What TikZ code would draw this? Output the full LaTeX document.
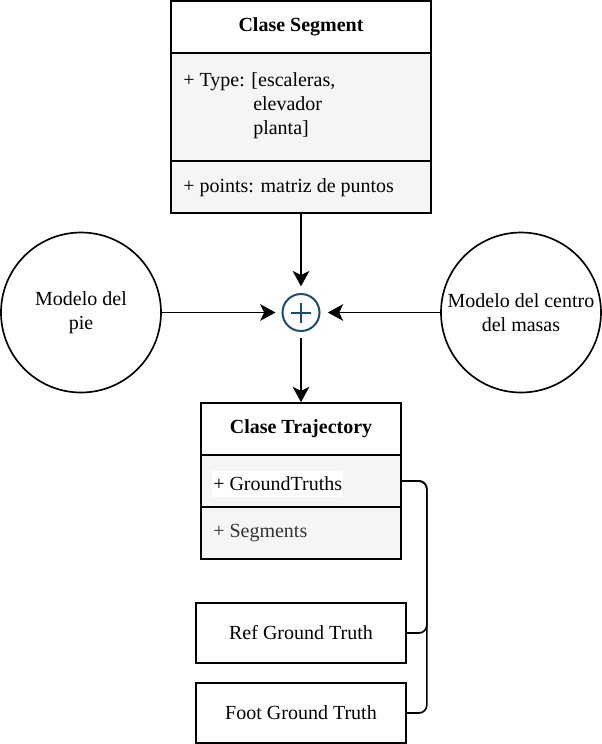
\documentclass[tikz,border=0pt]{standalone}
\usepackage{fontspec}
\setmainfont{Liberation Serif}
\usetikzlibrary{arrows.meta}
\definecolor{rowfill}{HTML}{F5F5F5}
\definecolor{graytext}{HTML}{333333}
\definecolor{plusblue}{HTML}{1E4D6B}
\tikzset{
  txt/.style={font=\fontsize{15}{18}\selectfont},
  box/.style={draw=black, line width=1.25pt, rectangle, inner sep=0pt, txt},
  row/.style={box, fill=rowfill},
  circ/.style={draw=black, line width=1.25pt, circle, inner sep=0pt, minimum size=120pt, align=center, txt},
  arr/.style={line width=1.25pt, -{Stealth[length=11.5pt, width=12.5pt, inset=3pt]}},
  link/.style={line width=1.25pt, rounded corners=6pt},
}
\begin{document}
\begin{tikzpicture}[x=0.75pt, y=-0.75pt]
\useasboundingbox (0,0) rectangle (602,744);
% Clase Segment
\node[box, minimum width=195pt, minimum height=39pt, font=\fontsize{15}{18}\selectfont\bfseries] (seghead) at (301,27) {Clase Segment};
\node[row, minimum width=195pt, minimum height=81pt] (segrow1) at (301,107) {};
\node[row, minimum width=195pt, minimum height=39pt] (segrow2) at (301,187) {};
\node[txt, anchor=west, inner sep=0pt, align=left] (segtype) at (183,105.5) {+ Type: [escaleras,\\\hspace*{52.5pt}elevador\\\hspace*{52.5pt}planta]};
\node[txt, anchor=west, inner sep=0pt] (segpoints) at (183,188) {+ points: matriz de puntos};
% plus
\node[circle, draw=plusblue, line width=1.5pt, fill=white, minimum size=27.75pt, inner sep=0pt] (plus) at (301,312.5) {};
\draw[plusblue, line width=1.5pt] ([xshift=-7.5pt]plus.center) -- ([xshift=7.5pt]plus.center);
\draw[plusblue, line width=1.5pt] ([yshift=-7.5pt]plus.center) -- ([yshift=7.5pt]plus.center);
% circles
\node[circ] (foot) at (81,312.5) {Modelo del\\pie};
\node[circ] (com) at (521,312.5) {Modelo del centro\\del masas};
% Clase Trajectory
\node[box, minimum width=150pt, minimum height=39pt, font=\fontsize{15}{18}\selectfont\bfseries] (trhead) at (301,429) {Clase Trajectory};
\node[row, minimum width=150pt, minimum height=39pt] (trrow1) at (301,481) {};
\node[row, minimum width=150pt, minimum height=39pt] (trrow2) at (301,533) {};
\node[txt, anchor=west, fill=white, inner xsep=0.75pt, inner ysep=0pt, minimum height=19.5pt] (gt) at (212,484) {+ GroundTruths};
\node[txt, anchor=west, inner sep=0pt, text=graytext] (segs) at (213,533) {+ Segments};
% ground truth boxes
\node[box, minimum width=157.5pt, minimum height=45pt] (ref) at (301,633) {Ref Ground Truth};
\node[box, minimum width=157.5pt, minimum height=45pt] (footgt) at (301,713) {Foot Ground Truth};
% arrows
\draw[arr, shorten >=5pt] (segrow2.south) -- (plus.north);
\draw[arr, shorten >=4.5pt] (foot.east) -- (plus.west);
\draw[arr, shorten >=5.5pt] (com.west) -- (plus.east);
\draw[arr, shorten <=4.5pt] (plus.south) -- (trhead.north);
% bracket links
\draw[link] (trrow1.east) -- ++(25,0) |- (ref.east);
\draw[link] (trrow1.east) -- ++(25,0) |- (footgt.east);
\end{tikzpicture}
\end{document}
